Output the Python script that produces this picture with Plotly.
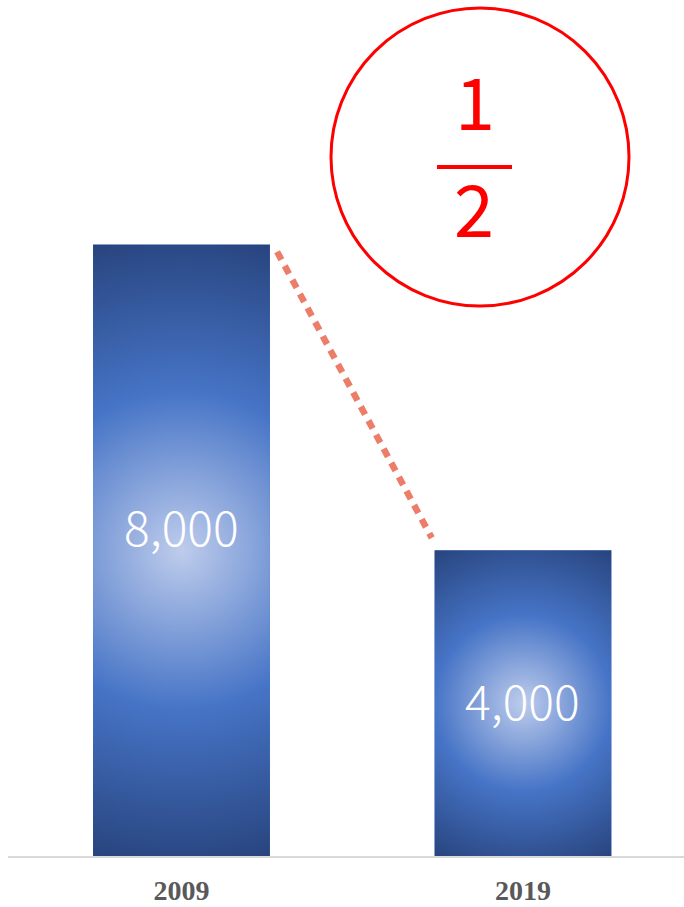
import base64
import math
import plotly.graph_objects as go

# ---- data ----
years = ["2009", "2019"]
values = [8000, 4000]
value_labels = ["8,000", "4,000"]
fraction_top = "1"
fraction_bottom = "2"

# ---- layout constants ----
W, H = 684, 907
ML, MR, MT, MB = 8, 0, 0, 51
PW, PH = W - ML - MR, H - MT - MB
XR = [-0.508, 1.4715]
YR = [0, 11200]
BW = 0.518

xpos = list(range(len(years)))


def grad_svg(wpx, hpx):
    r = math.hypot(wpx, hpx) / 2
    svg = (
        f'<svg xmlns="http://www.w3.org/2000/svg" width="{wpx:.1f}" height="{hpx:.1f}" '
        f'viewBox="0 0 {wpx:.2f} {hpx:.2f}" preserveAspectRatio="none">'
        f'<defs><radialGradient id="g" gradientUnits="userSpaceOnUse" cx="{wpx/2:.2f}" cy="{hpx/2:.2f}" r="{r:.2f}">'
        '<stop offset="0" stop-color="rgb(190,204,236)"/>'
        '<stop offset="0.5" stop-color="rgb(70,116,198)"/>'
        '<stop offset="1" stop-color="rgb(40,68,126)"/>'
        '</radialGradient></defs>'
        f'<rect x="0" y="0" width="{wpx:.2f}" height="{hpx:.2f}" fill="url(#g)"/></svg>'
    )
    return "data:image/svg+xml;base64," + base64.b64encode(svg.encode()).decode()


fig = go.Figure()
fig.add_trace(go.Bar(
    x=xpos, y=values, width=BW,
    marker=dict(color="#4472c4", line=dict(width=0)),
    hoverinfo="skip", showlegend=False,
))

images = []
px_per_x = PW / (XR[1] - XR[0])
px_per_y = PH / (YR[1] - YR[0])
for xi, v in zip(xpos, values):
    images.append(dict(
        source=grad_svg(BW * px_per_x, v * px_per_y),
        xref="x", yref="y", x=xi - BW / 2, y=v, sizex=BW, sizey=v,
        xanchor="left", yanchor="top", sizing="stretch", layer="above",
    ))

# dotted connector between bar tops
fig.add_trace(go.Scatter(
    x=[xpos[0] + BW / 2 + 0.021, xpos[1] - BW / 2 - 0.008],
    y=[values[0] - 94, values[1] + 162],
    mode="lines",
    line=dict(color="rgb(236,125,105)", width=6.5, dash="9px,7px"),
    hoverinfo="skip", showlegend=False,
))

annotations = []
for xi, v, lab, ys in zip(xpos, values, value_labels, [25, 4]):
    annotations.append(dict(
        x=xi, y=v / 2, xref="x", yref="y", text=lab, showarrow=False,
        xanchor="center", yanchor="middle", yshift=ys,
        font=dict(family="Noto Sans CJK JP", size=48, color="white", weight=300),
    ))

def px2paper(px, py):
    return (px - ML) / PW, (MT + PH - py) / PH

cx0, cy0 = px2paper(331, 306)
cx1, cy1 = px2paper(629, 8)
lx0, ly = px2paper(437, 167)
lx1, _ = px2paper(512, 167)
t1x, t1y = px2paper(475, 98)
t2x, t2y = px2paper(474, 205)

annotations += [
    dict(x=t1x, y=t1y, xref="paper", yref="paper", text=fraction_top, showarrow=False,
         xanchor="center", yanchor="middle",
         font=dict(family="Noto Sans CJK JP", size=72, color="#ff0000")),
    dict(x=t2x, y=t2y, xref="paper", yref="paper", text=fraction_bottom, showarrow=False,
         xanchor="center", yanchor="middle",
         font=dict(family="Noto Sans CJK JP", size=72, color="#ff0000")),
]

shapes = [
    dict(type="circle", xref="paper", yref="paper", x0=cx0, y0=cy0, x1=cx1, y1=cy1,
         line=dict(color="#ff0000", width=3)),
    dict(type="line", xref="paper", yref="paper", x0=lx0, y0=ly, x1=lx1, y1=ly,
         line=dict(color="#ff0000", width=4)),
]

fig.update_layout(
    width=W, height=H,
    margin=dict(l=ML, r=MR, t=MT, b=MB, autoexpand=False),
    paper_bgcolor="white", plot_bgcolor="white",
    images=images, annotations=annotations, shapes=shapes,
    xaxis=dict(range=XR, tickvals=xpos, ticktext=years, showgrid=False, zeroline=False,
               showline=True, linecolor="#d9d9d9", linewidth=1.5, automargin=False,
               ticks="outside", ticklen=9, tickcolor="rgba(0,0,0,0)",
               tickfont=dict(family="Liberation Serif", size=28, color="#595959", weight="bold")),
    yaxis=dict(range=YR, visible=False, showgrid=False, zeroline=False),
)

fig.write_html("out.html")
